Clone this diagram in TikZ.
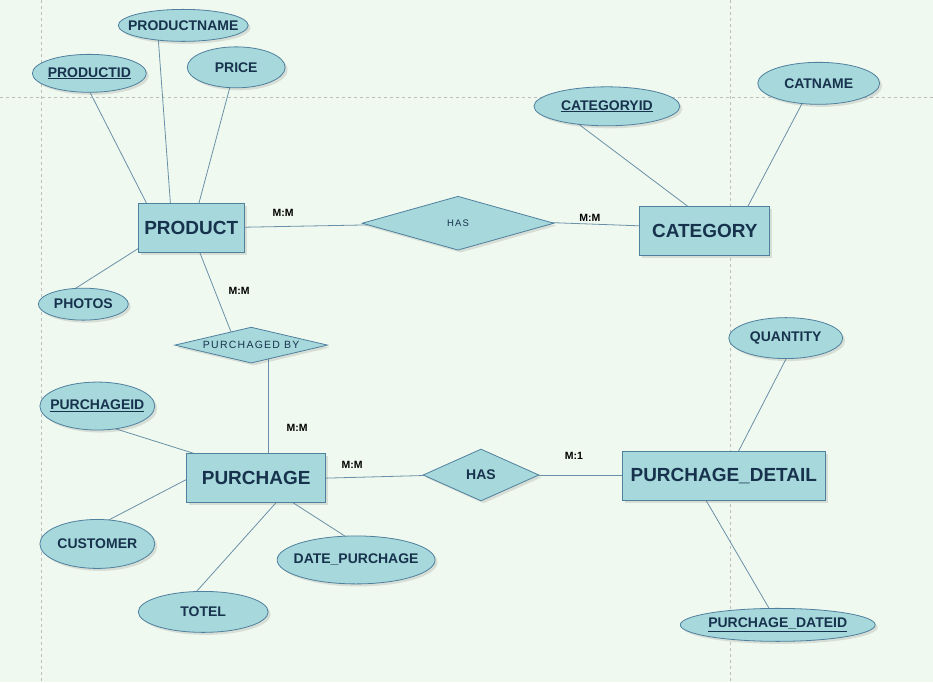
\documentclass[tikz,border=0pt]{standalone}
\usepackage{fontspec}
\setmainfont{Liberation Sans}
\newfontfamily\spacedfont[LetterSpace=12]{Liberation Sans}
\usetikzlibrary{shapes.geometric,shadows,calc}
\definecolor{bgc}{HTML}{F0F9EF}
\definecolor{fillc}{HTML}{A7D8DB}
\definecolor{edgec}{HTML}{4F809E}
\definecolor{linec}{HTML}{6A90A8}
\definecolor{txtc}{HTML}{17324D}
\definecolor{gridc}{HTML}{BDBDBD}
\pgfdeclarelayer{backdrop}
\pgfdeclarelayer{background}
\pgfsetlayers{backdrop,background,main}
\newcommand{\ctext}[1]{\makebox[0pt]{#1}}
\tikzset{
 softshadow/.style={drop shadow={shadow xshift=2.5pt,shadow yshift=-2.5pt,opacity=0.22}},
 entity/.style={rectangle, draw=edgec, fill=fillc, line width=0.9pt, inner sep=0pt, text=txtc, font=\fontsize{19}{22}\selectfont\bfseries, softshadow},
 attr/.style={ellipse, draw=edgec, fill=fillc, line width=0.8pt, inner sep=0pt, text=txtc, font=\fontsize{14}{16}\selectfont\bfseries, softshadow},
 rel/.style={diamond, draw=edgec, fill=fillc, line width=0.8pt, inner sep=0pt, text=txtc, softshadow},
 conn/.style={draw=linec, line width=0.8pt},
 card/.style={font=\fontsize{10.5}{12}\selectfont\bfseries, text=black},
 gridline/.style={draw=gridc, dashed, line width=0.8pt},
}
\begin{document}
\begin{tikzpicture}[x=1pt,y=-1pt]
\begin{pgfonlayer}{backdrop}
\fill[bgc] (0,0) rectangle (933,682);
\draw[gridline] (0,97) -- (933,97);
\draw[gridline] (41,0) -- (41,682);
\draw[gridline] (731,0) -- (731,682);
\end{pgfonlayer}
\useasboundingbox (0,0) rectangle (933,682);

% entities
\node[entity, minimum width=106pt, minimum height=49pt] (product) at (191,228) {\ctext{PRODUCT}};
\node[entity, minimum width=130pt, minimum height=49pt] (category) at (705,231) {\ctext{CATEGORY}};
\node[entity, minimum width=139pt, minimum height=49pt] (purchage) at (256,478) {\ctext{PURCHAGE}};
\node[entity, minimum width=203pt, minimum height=49pt] (pd) at (724,476) {\ctext{PURCHAGE\_DETAIL}};

% attributes
\node[attr, minimum width=130pt, minimum height=32pt] (pname) at (183,25) {\ctext{PRODUCTNAME}};
\node[attr, minimum width=114pt, minimum height=38pt] (prodid) at (89,73) {\ctext{\underline{PRODUCTID}}};
\node[attr, minimum width=98pt, minimum height=41pt] (price) at (236,67) {\ctext{PRICE}};
\node[attr, minimum width=90pt, minimum height=32pt] (photos) at (83,304) {\ctext{PHOTOS}};
\node[attr, minimum width=146pt, minimum height=39pt] (catid) at (607,106) {\ctext{\underline{CATEGORYID}}};
\node[attr, minimum width=122pt, minimum height=42pt] (catname) at (819,83) {\ctext{CATNAME}};
\node[attr, minimum width=115pt, minimum height=48pt] (pid) at (97,406) {\ctext{\underline{PURCHAGEID}}};
\node[attr, minimum width=115pt, minimum height=49pt] (cust) at (97,544) {\ctext{CUSTOMER}};
\node[attr, minimum width=130pt, minimum height=41pt] (totel) at (203,612) {\ctext{TOTEL}};
\node[attr, minimum width=158pt, minimum height=48pt] (date) at (356,560) {\ctext{DATE\_PURCHAGE}};
\node[attr, minimum width=114pt, minimum height=41pt] (qty) at (786,338) {\ctext{QUANTITY}};
\node[attr, minimum width=195pt, minimum height=33pt] (pdid) at (778,625) {\ctext{\underline{PURCHAGE\_DATEID}}};

% relationships
\node[rel, minimum width=192pt, minimum height=54pt, font=\spacedfont\fontsize{9.5}{11}\selectfont] (has1) at (458,223) {\ctext{HAS}};
\node[rel, minimum width=153pt, minimum height=36pt, font=\spacedfont\fontsize{10.5}{12}\selectfont] (pby) at (251,345) {\ctext{PURCHAGED BY}};
\node[rel, minimum width=116pt, minimum height=52pt, font=\fontsize{14}{16}\selectfont\bfseries] (has2) at (481,475) {\ctext{HAS}};

% cardinalities
\node[card] (c1) at (283,213) {M:M};
\node[card] (c2) at (590,218) {M:M};
\node[card] (c3) at (239,291) {M:M};
\node[card] (c4) at (297,428) {M:M};
\node[card] (c5) at (352,465) {M:M};
\node[card] (c6) at (574,456) {M:1};

% connectors
\begin{pgfonlayer}{background}
\draw[conn] ($(prodid)+(-9,0)$) -- ($(product)+(-32,0)$);
\draw[conn] ($(pname)+(-26,0)$) -- ($(product)+(-19,0)$);
\draw[conn] ($(price)+(-1,0)$) -- ($(product)+(1,0)$);
\draw[conn] ($(photos)+(-28,-3)$) -- ($(product)+(-21,0)$);
\draw[conn] (product) -- (has1);
\draw[conn] ($(has1)+(0,-4)$) -- ($(category)+(0,-3)$);
\draw[conn] ($(catid)+(-52,0)$) -- ($(category)+(16,0)$);
\draw[conn] ($(catname)+(-6,0)$) -- ($(category)+(30,0)$);
\draw[conn] ($(product)+(-1,0)$) -- ($(pby)+(-15,0)$);
\draw[conn] ($(pby)+(17,0)$) -- ($(purchage)+(12,0)$);
\draw[conn] ($(pid)+(0,17)$) -- ($(purchage)+(0,-5)$);
\draw[conn] ($(cust)+(0,-18)$) -- ($(purchage)+(-41,-13.5)$);
\draw[conn] ($(totel)+(-25,0)$) -- ($(purchage)+(42,0)$);
\draw[conn] ($(date)+(26,0)$) -- ($(purchage)+(17,12)$);
\draw[conn] ($(purchage)+(0,2)$) -- ($(has2)+(0,-1)$);
\draw[conn] (has2) -- ($(pd)+(0,-1)$);
\draw[conn] ($(qty)+(11,0)$) -- ($(pd)+(2,0)$);
\draw[conn] ($(pd)+(-32,0)$) -- ($(pdid)+(1,0)$);
\end{pgfonlayer}
\end{tikzpicture}
\end{document}
